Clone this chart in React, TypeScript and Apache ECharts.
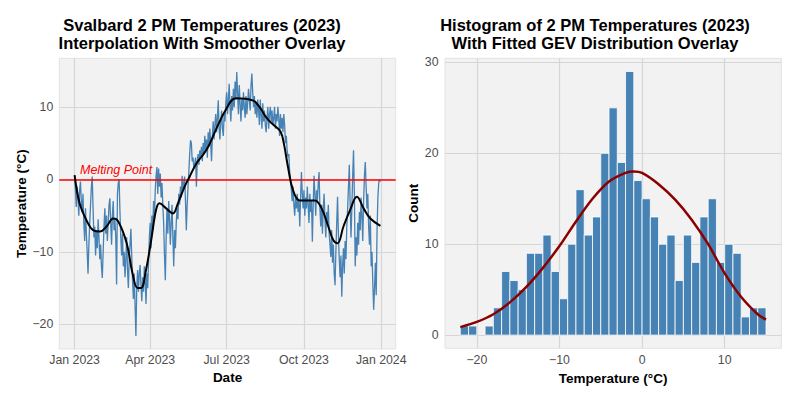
import React, { useEffect, useRef } from "react";
import * as echarts from "echarts";

// Daily 2 PM temperatures (°C), index = day of year 2023 (0 = Jan 1)
const dailyTemps: number[] = [
  // Jan
  0.5, -1.5, -3.8, -1.0, -2.5, -5.0, -1.5, -0.3, -3.0, -4.5, -2.0, -6.0, -8.5, -4.0, -7.5, -10.0, -13.0, -9.0, -6.0, -3.5, -1.0, 0.4, -4.0, -8.0, -6.5, -10.5, -7.0, -9.5, -5.5, -8.0, -11.0,
  // Feb
  -9.0, -12.0, -13.6, -10.0, -6.5, -4.0, -7.5, -5.0, -8.5, -6.0, -3.5, -2.6, -6.0, -9.0, -5.0, -3.0, -7.0, -5.5, -8.0, -14.5, -2.0, -0.5, 0.0, -4.5, -8.0, -10.5, -7.5, -12.0,
  // Mar
  -10.0, -13.5, -11.0, -8.0, -12.5, -15.0, -11.0, -9.0, -6.8, -10.5, -14.0, -16.5, -13.0, -17.5, -21.6, -15.0, -12.5, -15.5, -13.0, -11.8, -14.5, -16.8, -13.5, -15.5, -12.0, -14.0, -17.2, -13.0, -15.0, -11.5, -8.0,
  // Apr
  -6.0, -9.5, -5.0, -7.0, -3.0, -5.5, -1.5, 0.5, 1.7, -2.0, 1.5, -1.0, 0.8, -2.5, -0.5, -3.5, -6.0, -10.5, -13.9, -8.0, -4.0, -7.5, -3.0, -5.5, -9.0, -6.0, -3.5, -8.0, -12.0, -7.0,
  // May
  -9.5, -6.0, -4.0, -5.5, -2.0, -3.5, -1.0, -2.5, 0.5, -1.5, -0.5, 0.4, -3.0, -7.0, -3.5, -1.0, 1.0, 3.5, 5.4, 5.0, 2.5, 3.0, 1.5, 2.0, 3.0, -1.0, 2.5, 3.5, 2.0, 4.0, 3.0,
  // Jun
  4.5, 2.5, 5.0, 3.5, 6.0, 4.0, 5.5, 3.0, 6.5, 4.5, 7.0, 5.0, 2.5, 6.0, 8.0, 5.5, 7.5, 9.0, 6.5, 8.5, 10.9, 7.0, 5.5, 8.0, 9.5, 7.0, 6.0, 9.0, 8.0, 10.5,
  // Jul
  12.0, 9.0, 11.0, 13.2, 10.0, 8.0, 11.5, 9.5, 12.5, 10.0, 13.5, 11.0, 14.8, 12.0, 9.0, 13.0, 10.5, 8.0, 11.0, 9.5, 12.0, 10.0, 8.5, 11.5, 9.0, 10.5, 12.5, 11.0, 9.5, 13.0, 14.6,
  // Aug
  12.0, 10.0, 11.5, 9.0, 10.5, 8.5, 11.0, 9.5, 7.5, 11.0, 9.0, 7.0, 10.5, 8.0, 9.5, 7.5, 6.5, 8.5, 10.0, 7.0, 9.0, 10.0, 8.0, 9.5, 7.5, 8.5, 10.0, 7.0, 9.0, 8.0, 10.0,
  // Sep
  8.5, 6.0, 9.0, 7.0, 8.5, 6.5, 9.0, 7.5, 5.0, 6.0, 4.0, 3.1, 3.5, 1.0, 0.0, -1.5, -3.0, -1.0, -3.5, -5.0, -2.5, -4.0, -2.0, -4.5, -3.0, -6.5, -2.5, 1.0, -2.0, -4.0,
  // Oct
  -1.5, -5.0, -2.5, -4.0, -1.0, -3.5, -6.0, -2.0, -4.5, -3.0, -8.6, -3.5, 0.5, -2.0, -5.0, -1.5, -3.0, -0.5, 1.0, -4.0, -6.5, -3.5, -7.5, -4.0, -2.0, -5.5, -8.0, -4.5, -6.0, -3.5, -7.5,
  // Nov
  -9.0, -10.7, -7.0, -11.5, -9.0, -13.0, -14.6, -10.0, -6.0, -2.4, -7.5, -11.0, -13.5, -10.5, -16.2, -12.0, -9.5, -13.0, -8.5, -11.0, -6.5, -4.0, -1.0, 2.0, -3.5, -8.0, -4.0, 0.5, 4.0, -2.0,
  // Dec
  -12.0, -8.0, -10.5, -6.0, -9.0, -4.5, -7.0, -2.5, -5.0, -8.5, -3.0, 0.5, 2.4, -1.0, -4.0, -2.0, -6.5, -9.0, -5.0, -12.0, -10.0, -14.5, -18.0, -15.0, -11.5, -16.0, -7.0, -2.5, -0.5, 0.0, -0.3,
];

// Smoother overlay: [day of year, °C]
const smoothDays: number[] = [0, 6, 14, 22, 30, 38, 46, 52, 62, 69, 75, 79, 85, 91, 97, 101, 109, 117, 123, 131, 137, 145, 153, 160, 168, 180, 192, 212, 220, 229, 237, 245, 249, 254, 260, 268, 278, 286, 294, 302, 308, 313, 320, 328, 336, 344, 352, 364];
const smoothTemps: number[] = [0.6, -3.3, -5.6, -7.0, -7.2, -6.5, -5.4, -5.8, -8.8, -13.0, -15.0, -15.0, -12.5, -8.5, -4.2, -3.3, -4.0, -4.7, -3.3, -1.0, 0.4, 2.2, 3.4, 4.7, 6.8, 9.6, 11.2, 10.9, 10.0, 8.4, 7.5, 6.6, 5.0, 1.7, -1.5, -2.9, -2.9, -2.9, -4.0, -6.5, -8.4, -8.8, -6.5, -4.2, -2.4, -4.0, -5.4, -6.4];

// Date axis ticks
const dateTickDays: number[] = [0, 90, 181, 273, 365];
const dateTickLabels: string[] = ["Jan 2023", "Apr 2023", "Jul 2023", "Oct 2023", "Jan 2024"];
const tempTicks: number[] = [-20, -10, 0, 10];

// Histogram (1 °C bins starting at binStarts[i])
const binStarts: number[] = [-22, -21, -20, -19, -18, -17, -16, -15, -14, -13, -12, -11, -10, -9, -8, -7, -6, -5, -4, -3, -2, -1, 0, 1, 2, 3, 4, 5, 6, 7, 8, 9, 10, 11, 12, 13, 14];
const binCounts: number[] = [1, 1, 0, 1, 3, 7, 6, 5, 9, 9, 11, 7, 4, 10, 16, 11, 13, 20, 25, 19, 29, 17, 15, 13, 10, 11, 6, 11, 8, 13, 15, 8, 10, 9, 2, 3, 3];
const histXTicks: number[] = [-20, -10, 0, 10];
const countTicks: number[] = [0, 10, 20, 30];

// Fitted GEV density scaled to counts
const gevX: number[] = [-22, -20, -18, -16, -14, -12, -10, -8, -6, -4, -2, -1, 0, 2, 4, 6, 8, 10, 12, 14, 15];
const gevY: number[] = [0.88, 1.45, 2.3, 3.6, 5.3, 7.4, 9.8, 12.5, 15.0, 16.9, 17.85, 18.0, 17.85, 16.6, 14.9, 12.7, 10.0, 6.8, 4.2, 2.3, 1.7];

const FONT = "'Liberation Sans', Arial, Helvetica, sans-serif";
const minus = (v: number) => String(v).replace("-", "\u2212");

export default function App() {
  const ref = useRef<HTMLDivElement>(null);

  useEffect(() => {
    if (!ref.current) return;
    const chart = echarts.init(ref.current, undefined, { renderer: "svg" });

    const axisLabelStyle = { color: "#4d4d4d", fontSize: 12.3, fontFamily: FONT };
    const nameStyle = { color: "#000", fontSize: 13.5, fontWeight: "bold" as const, fontFamily: FONT };
    const splitLine = { show: true, lineStyle: { color: "#d6d6d6", width: 1.2 } };

    const option: any = {
      animation: false,
      backgroundColor: "#ffffff",
      graphic: [
        {
          type: "text",
          x: 202,
          y: 34,
          z: 100,
          style: {
            text: "Svalbard 2 PM Temperatures (2023)\nInterpolation With Smoother Overlay",
            textAlign: "center",
            textVerticalAlign: "middle",
            font: `bold 16.5px ${FONT}`,
            lineHeight: 18,
            fill: "#000",
          },
        },
        {
          type: "text",
          x: 595,
          y: 34,
          z: 100,
          style: {
            text: "Histogram of 2 PM Temperatures (2023)\nWith Fitted GEV Distribution Overlay",
            textAlign: "center",
            textVerticalAlign: "middle",
            font: `bold 16.5px ${FONT}`,
            lineHeight: 18,
            fill: "#000",
          },
        },
        {
          type: "text",
          x: 80,
          y: 170,
          z: 100,
          style: {
            text: "Melting Point",
            textAlign: "left",
            textVerticalAlign: "middle",
            font: `italic 12.5px ${FONT}`,
            fill: "#ff0000",
          },
        },
      ],
      grid: [
        { left: 59.3, top: 58.3, width: 336.4, height: 290.7, show: true, backgroundColor: "#f2f2f2", borderColor: "#e3e3e3", borderWidth: 1 },
        { left: 445, top: 58.3, width: 336.3, height: 290, show: true, backgroundColor: "#f2f2f2", borderColor: "#e3e3e3", borderWidth: 1 },
      ],
      xAxis: [
        {
          type: "value",
          gridIndex: 0,
          min: -18.2,
          max: 382.2,
          axisLine: { show: false },
          axisTick: { show: false, customValues: dateTickDays },
          axisLabel: {
            ...axisLabelStyle,
            margin: 5,
            customValues: dateTickDays,
            formatter: (v: number) => dateTickLabels[dateTickDays.indexOf(Math.round(v))] ?? "",
          },
          splitLine,
          name: "Date",
          nameLocation: "middle",
          nameGap: 18,
          nameTextStyle: nameStyle,
        },
        {
          type: "value",
          gridIndex: 1,
          min: -23.85,
          max: 16.85,
          axisLine: { show: false },
          axisTick: { show: false, customValues: histXTicks },
          axisLabel: { ...axisLabelStyle, margin: 6, customValues: histXTicks, formatter: (v: number) => minus(v) },
          splitLine,
          name: "Temperature (°C)",
          nameLocation: "middle",
          nameGap: 18,
          nameTextStyle: nameStyle,
        },
      ],
      yAxis: [
        {
          type: "value",
          gridIndex: 0,
          min: -23.4,
          max: 16.7,
          axisLine: { show: false },
          axisTick: { show: false, customValues: tempTicks },
          axisLabel: { ...axisLabelStyle, margin: 6, customValues: tempTicks, formatter: (v: number) => minus(v) },
          splitLine,
          name: "Temperature (°C)",
          nameLocation: "middle",
          nameGap: 31,
          nameRotate: 90,
          nameTextStyle: nameStyle,
        },
        {
          type: "value",
          gridIndex: 1,
          min: -1.45,
          max: 30.45,
          axisLine: { show: false },
          axisTick: { show: false, customValues: countTicks },
          axisLabel: { ...axisLabelStyle, margin: 6.5, customValues: countTicks },
          splitLine,
          name: "Count",
          nameLocation: "middle",
          nameGap: 25,
          nameRotate: 90,
          nameTextStyle: nameStyle,
        },
      ],
      series: [
        {
          type: "line",
          xAxisIndex: 0,
          yAxisIndex: 0,
          data: dailyTemps.map((t, i) => [i, t]),
          symbol: "none",
          lineStyle: { color: "#4682b4", width: 1.3 },
          silent: true,
          z: 2,
          markLine: {
            silent: true,
            symbol: "none",
            label: { show: false },
            lineStyle: { color: "#ff0000", width: 1.5, type: "solid" },
            data: [{ yAxis: 0 }],
            z: 3,
          },
        },
        {
          type: "line",
          xAxisIndex: 0,
          yAxisIndex: 0,
          data: smoothDays.map((d, i) => [d, smoothTemps[i]]),
          symbol: "none",
          smooth: 0.4,
          lineStyle: { color: "#000000", width: 2 },
          silent: true,
          z: 4,
        },
        {
          type: "custom",
          xAxisIndex: 1,
          yAxisIndex: 1,
          data: binStarts.map((b, i) => [b, binCounts[i]]),
          renderItem: (params: any, api: any) => {
            const x0 = api.value(0);
            const c = api.value(1);
            if (!c) return null;
            const p0 = api.coord([x0, 0]);
            const p1 = api.coord([x0 + 1, c]);
            return {
              type: "rect",
              shape: { x: p0[0], y: p1[1], width: p1[0] - p0[0], height: p0[1] - p1[1] },
              style: { fill: "#4682b4", stroke: "#ffffff", lineWidth: 0.8 },
            };
          },
          silent: true,
          z: 2,
        },
        {
          type: "line",
          xAxisIndex: 1,
          yAxisIndex: 1,
          data: gevX.map((x, i) => [x, gevY[i]]),
          symbol: "none",
          smooth: 0.3,
          lineStyle: { color: "#8b0000", width: 2.5 },
          silent: true,
          z: 4,
        },
      ],
    };

    chart.setOption(option);
    return () => chart.dispose();
  }, []);

  return (
    <div
      ref={ref}
      style={{ position: "fixed", left: 0, top: 0, width: 797, height: 399 }}
    />
  );
}
